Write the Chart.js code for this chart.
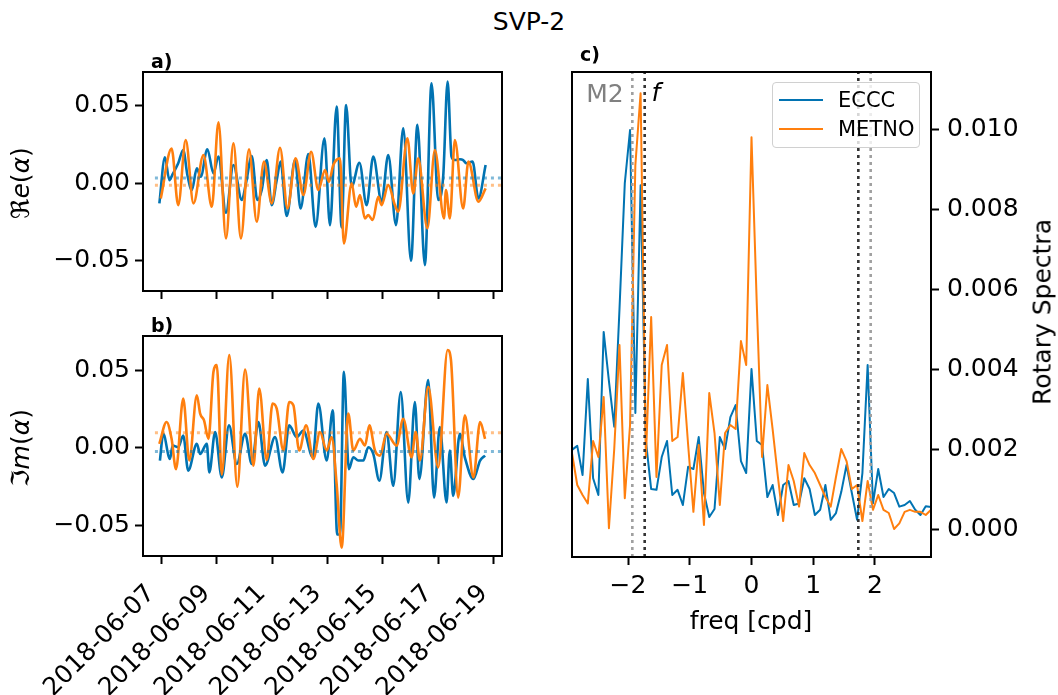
<!DOCTYPE html>
<html>
<head>
<meta charset="utf-8">
<script src="https://cdn.jsdelivr.net/npm/chart.js@4.4.1/dist/chart.umd.min.js"></script>
<style>
  body { margin: 0; width: 1058px; height: 695px; position: relative; background: #fff; overflow: hidden; font-family: "DejaVu Sans", sans-serif; }
  canvas { position: absolute; }
  .lbl { position: absolute; font-size: 25px; line-height: 1; white-space: nowrap; color: #000; transform: translate(-50%, -50%); }
  .rot { transform: translate(-50%, -50%) rotate(-90deg); }
  .pan { position: absolute; font-size: 19px; font-weight: bold; line-height: 1; transform: translateY(-50%); }
  #legenda { position: absolute; left: 772px; top: 82px; width: 146px; height: 64px; border: 1px solid #d0d0d0; border-radius: 4px; background: rgba(255,255,255,0.8); }
  #legenda .ln { position: absolute; left: 6px; width: 44px; height: 2px; }
  #legenda .tx { position: absolute; left: 65px; font-size: 21px; line-height: 1; transform: translateY(-50%); }
</style>
</head>
<body>
<canvas id="graficoRe" width="515" height="244" style="left:0;top:56px"></canvas>
<canvas id="graficoIm" width="515" height="375" style="left:0;top:320px"></canvas>
<canvas id="graficoSpec" width="498" height="639" style="left:560px;top:56px"></canvas>

<div class="lbl" style="left:529px;top:21px">SVP-2</div>
<div class="pan" style="left:151px;top:61px">a)</div>
<div class="pan" style="left:151px;top:325px">b)</div>
<div class="pan" style="left:580px;top:54px">c)</div>
<div class="lbl rot" style="left:20px;top:183px">ℜ<i>e</i>(<i>α</i>)</div>
<div class="lbl rot" style="left:20px;top:448px">ℑ<i>m</i>(<i>α</i>)</div>
<div class="lbl" style="left:751px;top:620px">freq [cpd]</div>
<div class="lbl rot" style="left:1042px;top:312px">Rotary Spectra</div>
<div class="lbl" style="left:605px;top:93px;color:#808080">M2</div>
<div class="lbl" style="left:656px;top:92px;font-style:italic">f</div>
<div id="legenda">
  <div class="ln" style="top:16px;background:#0173b2"></div>
  <div class="tx" style="top:17px">ECCC</div>
  <div class="ln" style="top:45px;background:#ff7f0e"></div>
  <div class="tx" style="top:46px">METNO</div>
</div>

<script>
// days since 2018-06-07
const dayTicks = [0, 2, 4, 6, 8, 10, 12];
const dayLabels = ["2018-06-07", "2018-06-09", "2018-06-11", "2018-06-13", "2018-06-15", "2018-06-17", "2018-06-19"];
const alphaTicks = [-0.05, 0, 0.05];

// a) real part
const ecccReT = [-0.06, 0.14, 0.30, 0.42, 0.62, 0.80, 0.95, 1.11, 1.29, 1.43, 1.67, 1.89, 2.07, 2.34, 2.61, 2.91, 3.06, 3.27, 3.47, 3.63, 3.81, 3.99, 4.17, 4.31, 4.53, 4.83, 5.03, 5.31, 5.57, 5.89, 6.09, 6.33, 6.51, 6.67, 6.87, 7.15, 7.41, 7.65, 7.95, 8.19, 8.47, 8.73, 9.01, 9.24, 9.51, 9.75, 9.99, 10.17, 10.33, 10.47, 10.59, 10.77, 10.89, 11.01, 11.23, 11.44, 11.70];
const ecccRe = [-0.0132, 0.0167, 0.0019, 0.0058, 0.0128, 0.0214, 0.0052, -0.0045, 0.0095, 0.0041, 0.0219, 0.0063, 0.0171, -0.0193, 0.0117, -0.011, -0.0002, 0.0175, -0.011, -0.0045, 0.0149, -0.0143, 0.0019, 0.0139, -0.0214, 0.0149, -0.0165, 0.0188, -0.0284, 0.029, -0.0273, 0.0496, -0.0288, 0.0506, -0.0024, 0.0132, -0.0143, 0.0171, -0.0121, 0.0182, -0.0273, 0.0355, -0.0504, 0.0377, -0.0532, 0.0647, -0.011, 0.0041, 0.0658, 0.0171, 0.0149, 0.0154, 0.0149, 0.0128, 0.0139, -0.01, 0.0117];
const metnoReT = [-0.01, 0.38, 0.62, 0.89, 1.17, 1.53, 1.83, 2.07, 2.34, 2.61, 2.88, 3.17, 3.45, 3.71, 3.99, 4.29, 4.56, 4.85, 5.13, 5.41, 5.67, 5.91, 6.05, 6.21, 6.45, 6.59, 6.87, 7.03, 7.17, 7.35, 7.47, 7.63, 7.83, 7.95, 8.19, 8.43, 8.55, 8.88, 9.09, 9.27, 9.60, 9.87, 10.20, 10.27, 10.41, 10.59, 10.89, 11.08, 11.44, 11.70];
const metnoRe = [-0.01, 0.0223, -0.0143, 0.0279, -0.0132, 0.0182, -0.0154, 0.0394, -0.0359, 0.0258, -0.0359, 0.0219, -0.0251, 0.0139, -0.0132, 0.0229, -0.0165, 0.016, -0.0078, 0.0203, -0.0045, 0.0084, 0.0009, 0.0117, 0.016, -0.0392, -0.0002, -0.0154, -0.0078, -0.0229, -0.0208, -0.024, -0.0089, -0.0143, -0.0013, -0.0143, -0.0186, 0.029, -0.0067, 0.016, -0.0294, 0.0214, -0.0229, -0.0045, -0.0229, 0.0279, -0.0165, 0.0139, -0.0121, -0.0035];

// b) imaginary part
const ecccImT = [-0.04, 0.08, 0.32, 0.42, 0.62, 0.80, 0.98, 1.29, 1.41, 1.65, 1.74, 1.95, 2.19, 2.45, 2.73, 3.03, 3.27, 3.51, 3.75, 4.11, 4.38, 4.62, 4.89, 5.13, 5.47, 5.67, 5.97, 6.19, 6.35, 6.45, 6.59, 6.77, 6.93, 7.11, 7.29, 7.47, 7.65, 7.87, 8.13, 8.37, 8.64, 8.91, 9.15, 9.31, 9.63, 9.84, 10.05, 10.29, 10.41, 10.53, 10.77, 10.95, 11.26, 11.50, 11.68];
const ecccIm = [-0.0084, 0.0089, -0.0074, 0.0013, 0.0002, 0.0078, -0.0149, 0.0024, -0.0041, 0.0024, -0.016, 0.01, -0.0193, 0.0143, -0.0106, 0.0089, -0.0106, 0.0165, -0.0117, 0.0067, -0.016, 0.0143, 0.0067, 0.011, -0.0063, 0.0284, -0.0084, 0.024, -0.0561, -0.0561, 0.0489, -0.0139, -0.0063, -0.0084, -0.0084, 0.0002, -0.0041, -0.0214, 0.01, -0.0247, 0.0359, -0.0355, 0.0294, -0.0203, 0.0435, -0.0323, 0.0132, -0.0355, -0.0019, -0.0312, 0.0089, -0.0063, -0.0203, -0.0084, -0.0052];
const metnoImT = [-0.06, 0.20, 0.38, 0.54, 0.80, 1.02, 1.29, 1.41, 1.55, 1.71, 1.89, 2.01, 2.19, 2.46, 2.75, 3.03, 3.33, 3.54, 3.81, 4.02, 4.17, 4.41, 4.62, 4.77, 4.98, 5.23, 5.49, 5.73, 5.97, 6.15, 6.33, 6.51, 6.75, 6.93, 7.17, 7.35, 7.51, 7.71, 7.89, 8.13, 8.49, 8.73, 9.03, 9.18, 9.33, 9.63, 9.99, 10.33, 10.45, 10.71, 10.95, 11.26, 11.50, 11.68];
const metnoIm = [0.0024, 0.0165, 0.0056, -0.0139, 0.0316, -0.0084, 0.0338, 0.0219, 0.0175, 0.0056, 0.0489, 0.0532, -0.0175, 0.0597, -0.0253, 0.0504, -0.0117, 0.0381, -0.008, 0.0284, 0.0251, -0.0019, 0.0294, 0.0273, -0.0019, 0.0143, -0.0074, 0.01, -0.0019, 0.0067, -0.0236, -0.0647, 0.0219, -0.0019, 0.0056, 0.0013, 0.0143, -0.0019, -0.0052, 0.0089, 0.0013, 0.0186, -0.0063, 0.01, -0.0084, 0.0392, -0.0128, 0.063, 0.0565, -0.0323, 0.0208, -0.0193, 0.0165, 0.0056];

// means (dotted lines)
const ecccReMean = 0.0032, metnoReMean = -0.0015;
const ecccImMean = -0.0025, metnoImMean = 0.0095;

// c) rotary spectra
const freq = [-2.907, -2.822, -2.736, -2.651, -2.565, -2.480, -2.394, -2.309, -2.223, -2.138, -2.052, -1.967, -1.881, -1.796, -1.710, -1.625, -1.539, -1.454, -1.368, -1.283, -1.197, -1.112, -1.026, -0.941, -0.855, -0.770, -0.684, -0.599, -0.513, -0.428, -0.342, -0.257, -0.171, -0.086, 0, 0.086, 0.171, 0.257, 0.342, 0.428, 0.513, 0.599, 0.684, 0.770, 0.855, 0.941, 1.026, 1.112, 1.197, 1.283, 1.368, 1.454, 1.539, 1.625, 1.710, 1.796, 1.881, 1.967, 2.052, 2.138, 2.223, 2.309, 2.394, 2.480, 2.565, 2.651, 2.736, 2.822, 2.907];
const ecccSpec = [0.00198, 0.00208, 0.00135, 0.00375, 0.00127, 0.00085, 0.00493, 0.0037, 0.00256, 0.0055, 0.00865, 0.00998, 0.0029, 0.0086, 0.0022, 0.0010, 0.00098, 0.0018, 0.0022, 0.00085, 0.00098, 0.0006, 0.00156, 0.0015, 0.0023, 0.0009, 0.0003, 0.0005, 0.0023, 0.0020, 0.0028, 0.0031, 0.0017, 0.0014, 0.0040, 0.0022, 0.0021, 0.0008, 0.0011, 0.00035, 0.0011, 0.0012, 0.0006, 0.00064, 0.00127, 0.0010, 0.00035, 0.00048, 0.0011, 0.00023, 0.0004, 0.00093, 0.0016, 0.0009, 0.00023, 0.0014, 0.0041, 0.00064, 0.0015, 0.0008, 0.0010, 0.0009, 0.00056, 0.0006, 0.0007, 0.00048, 0.00035, 0.00057, 0.00055];
const metnoSpec = [0.0019, 0.0011, 0.00085, 0.00064, 0.0022, 0.0018, 0.0033, 0.00002, 0.0020, 0.0046, 0.00077, 0.0026, 0.0091, 0.0109, 0.0018, 0.0053, 0.0013, 0.0041, 0.0046, 0.0022, 0.0023, 0.0039, 0.0021, 0.00043, 0.0021, 0.0001, 0.0034, 0.0024, 0.0006, 0.0024, 0.0026, 0.0025, 0.0047, 0.0041, 0.0098, 0.0056, 0.0018, 0.0036, 0.0025, 0.0013, 0.0002, 0.0016, 0.0012, 0.00056, 0.0019, 0.0016, 0.0014, 0.0011, 0.0008, 0.00056, 0.0013, 0.0020, 0.0017, 0.0010, 0.0011, 0.0002, 0.0012, 0.00048, 0.00085, 0.00048, 0.0004, 0.0000, 0.00014, 0.00043, 0.00048, 0.00043, 0.00043, 0.00035, 0.00048];
const freqTicks = [-2, -1, 0, 1, 2];
const specTicks = [0, 0.002, 0.004, 0.006, 0.008, 0.010];
const m2Freq = 1.93;
const fFreq = 1.73;

// axis limits
const timeMin = -0.65, timeMax = 12.29, meanStart = -0.22;
const alphaMin = -0.07, alphaMax = 0.072;
const specMin = -0.0007, specMax = 0.01143;

const BLUE = "#0173b2";
const ORANGE = "#ff7f0e";
const BLUE_FAINT = "rgba(1,115,178,0.5)";
const ORANGE_FAINT = "rgba(255,127,14,0.5)";

Chart.defaults.font.family = "DejaVu Sans";
Chart.defaults.color = "#000";

const moldura = {
  id: "moldura",
  afterDraw(chart) {
    const { ctx, chartArea: a } = chart;
    ctx.save();
    ctx.strokeStyle = "#000";
    ctx.lineWidth = 2;
    ctx.strokeRect(a.left, a.top, a.right - a.left, a.bottom - a.top);
    ctx.restore();
  },
};

function pontos(xs, ys) {
  return xs.map((x, i) => ({ x: x, y: ys[i] }));
}

function menos(v, casas) {
  const s = Math.abs(v).toFixed(casas);
  return (v < -1e-12 ? "\u2212" : "") + s;
}

function fixarTicks(valores) {
  return (scale) => {
    scale.ticks = valores.map((v) => ({ value: v }));
  };
}

// fixed box size, and no extra room asked for the end labels
function tamanho(prop, valor) {
  return (s) => {
    s[prop] = valor;
    s.paddingTop = 0;
    s.paddingBottom = 0;
    s.paddingLeft = 0;
    s.paddingRight = 0;
  };
}

function marcas() {
  return { drawOnChartArea: false, drawTicks: true, tickLength: 8, tickWidth: 2, tickColor: "#000" };
}

function serie(xs, ys, cor, largura, suave) {
  return {
    data: pontos(xs, ys),
    borderColor: cor,
    borderWidth: largura,
    pointRadius: 0,
    fill: false,
    borderJoinStyle: "round",
    cubicInterpolationMode: suave ? "monotone" : "default",
    tension: 0,
  };
}

function linhaPontilhada(pts, cor, largura) {
  return { data: pts, borderColor: cor, borderWidth: largura, borderDash: [3, 4], pointRadius: 0, fill: false };
}

function opcoesBase(padding) {
  return {
    responsive: false,
    animation: false,
    devicePixelRatio: 1,
    layout: { autoPadding: false, padding: padding },
    plugins: { legend: { display: false }, tooltip: { enabled: false } },
  };
}

function painelTempo(id, ecT, ec, meT, me, mediaE, mediaM, comRotulos) {
  const opts = opcoesBase({ left: 0, top: 16, right: 13, bottom: 0 });
  opts.scales = {
    x: {
      type: "linear",
      min: timeMin,
      max: timeMax,
      afterBuildTicks: fixarTicks(dayTicks),
      grid: marcas(),
      border: { display: false },
      ticks: comRotulos
        ? { autoSkip: false, minRotation: 45, maxRotation: 45, padding: 15, labelOffset: -10, font: { size: 25 }, callback: (v, i) => dayLabels[i] }
        : { display: false },
      afterFit: tamanho("height", comRotulos ? 139 : 9),
    },
    y: {
      min: alphaMin,
      max: alphaMax,
      afterBuildTicks: fixarTicks(alphaTicks),
      grid: marcas(),
      border: { display: false },
      ticks: { padding: 5, font: { size: 25 }, callback: (v) => menos(v, 2) },
      afterFit: tamanho("width", 143),
    },
  };
  new Chart(document.getElementById(id), {
    type: "line",
    data: {
      datasets: [
        linhaPontilhada([{ x: meanStart, y: mediaE }, { x: timeMax, y: mediaE }], BLUE_FAINT, 3),
        linhaPontilhada([{ x: meanStart, y: mediaM }, { x: timeMax, y: mediaM }], ORANGE_FAINT, 3),
        serie(meT, me, ORANGE, 2.6, true),
        serie(ecT, ec, BLUE, 2.6, true),
      ],
    },
    options: opts,
    plugins: [moldura],
  });
}

painelTempo("graficoRe", ecccReT, ecccRe, metnoReT, metnoRe, ecccReMean, metnoReMean, false);
painelTempo("graficoIm", ecccImT, ecccIm, metnoImT, metnoIm, ecccImMean, metnoImMean, true);

function vertical(f, cor) {
  return linhaPontilhada([{ x: f, y: specMin }, { x: f, y: specMax }], cor, 2.6);
}

const optsSpec = opcoesBase({ left: 12, top: 16, right: 0, bottom: 0 });
optsSpec.scales = {
  x: {
    type: "linear",
    min: freq[0],
    max: freq[freq.length - 1],
    afterBuildTicks: fixarTicks(freqTicks),
    grid: marcas(),
    border: { display: false },
    ticks: { padding: 6, font: { size: 25 }, callback: (v) => menos(v, 0) },
    afterFit: tamanho("height", 138),
  },
  y: {
    position: "right",
    min: specMin,
    max: specMax,
    afterBuildTicks: fixarTicks(specTicks),
    grid: marcas(),
    border: { display: false },
    ticks: { padding: 8, font: { size: 25 }, callback: (v) => v.toFixed(3) },
    afterFit: tamanho("width", 127),
  },
};

new Chart(document.getElementById("graficoSpec"), {
  type: "line",
  data: {
    datasets: [
      vertical(-m2Freq, "#a0a0a0"),
      vertical(m2Freq, "#a0a0a0"),
      vertical(-fFreq, "#333333"),
      vertical(fFreq, "#333333"),
      serie(freq, metnoSpec, ORANGE, 2, false),
      serie(freq, ecccSpec, BLUE, 2, false),
    ],
  },
  options: optsSpec,
  plugins: [moldura],
});
</script>
</body>
</html>
